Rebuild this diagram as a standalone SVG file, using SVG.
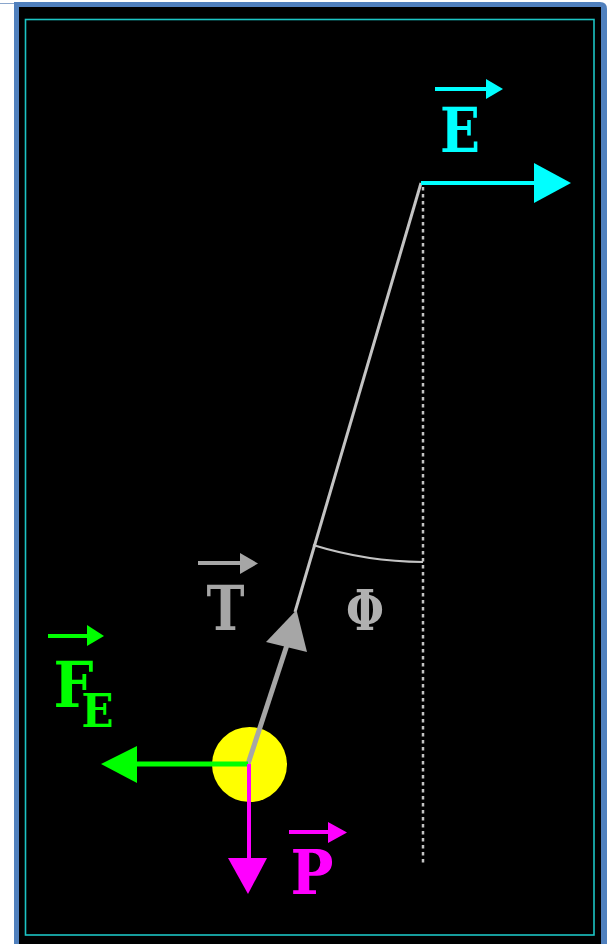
<svg xmlns="http://www.w3.org/2000/svg" width="609" height="944" viewBox="0 0 609 944">
  <style>
    .lbl { font-family: "DejaVu Serif", "Liberation Serif", serif; font-weight: bold; text-anchor: middle; }
    .cyan { fill: #00ffff; }
    .cyanS { stroke: #00ffff; fill: none; }
    .green { fill: #00ff00; }
    .greenS { stroke: #00ff00; fill: none; }
    .mag { fill: #ff00ff; }
    .magS { stroke: #ff00ff; fill: none; }
    .gray { fill: #a6a6a6; }
    .grayS { stroke: #a6a6a6; fill: none; }
    .lt { stroke: #c4c4c4; fill: none; }
  </style>
  <rect width="609" height="944" fill="#ffffff"/>
  <line x1="0" y1="3.5" x2="15" y2="3.5" stroke="#8aa6cc" stroke-width="1"/>
  <path d="M14 2 H600 Q607 2 607 9 V944 H14 Z" fill="#5080bd"/>
  <rect x="19" y="7" width="582" height="937" fill="#000000"/>
  <rect x="25.5" y="19.5" width="568.5" height="915.5" fill="none" stroke="#1cc4c4" stroke-width="1.6"/>

  <g id="connectors">
    <line class="lt" x1="423" y1="187" x2="423" y2="864" stroke-width="2.5" stroke-dasharray="3.5 3.5"/>
    <path class="lt" d="M313 545 A379 379 0 0 0 423 562" stroke-width="2"/>
    <line class="lt" x1="295" y1="612" x2="421" y2="183" stroke-width="3"/>
    <g id="field-arrow">
      <line class="cyanS" x1="421" y1="183" x2="537" y2="183" stroke-width="4"/>
      <polygon class="cyan" points="534,163 571,183 534,203"/>
    </g>
  </g>

  <g id="bob">
    <circle cx="249.5" cy="764.5" r="37.5" fill="#ffff00"/>
  </g>

  <g id="tension">
    <line class="grayS" x1="248" y1="764" x2="287" y2="645" stroke-width="5"/>
    <polygon class="gray" points="296.5,610 266,642 307,652"/>
  </g>
  <g id="electric-force">
    <line class="greenS" x1="248" y1="764" x2="135" y2="764" stroke-width="5"/>
    <polygon class="green" points="137,746 101,764 137,783"/>
  </g>
  <g id="weight">
    <line class="magS" x1="249" y1="764" x2="249" y2="860" stroke-width="4"/>
    <polygon class="mag" points="228,858 248,894 267,858"/>
  </g>

  <g id="label-E">
    <line class="cyanS" x1="435" y1="89" x2="488" y2="89" stroke-width="4"/>
    <polygon class="cyan" points="486,79 503,89 486,99"/>
    <text class="lbl cyan" x="460" y="152" font-size="62" textLength="40" lengthAdjust="spacingAndGlyphs">E</text>
  </g>
  <g id="label-T">
    <line class="grayS" x1="198" y1="563" x2="242" y2="563" stroke-width="4"/>
    <polygon class="gray" points="240,553 258,563.5 240,574"/>
    <text class="lbl gray" x="225.5" y="630" font-size="62" textLength="38" lengthAdjust="spacingAndGlyphs">T</text>
  </g>
  <g id="label-phi">
    <text class="lbl" x="365" y="630" font-size="56" fill="#b0b0b0" textLength="38" lengthAdjust="spacingAndGlyphs">Φ</text>
  </g>
  <g id="label-FE">
    <line class="greenS" x1="48" y1="636" x2="89" y2="636" stroke-width="4"/>
    <polygon class="green" points="87,625 104,636 87,646"/>
    <text class="lbl green" x="73.5" y="707" font-size="64" textLength="40" lengthAdjust="spacingAndGlyphs">F</text>
    <text class="lbl green" x="97.5" y="727" font-size="47" textLength="32" lengthAdjust="spacingAndGlyphs">E</text>
  </g>
  <g id="label-P">
    <line class="magS" x1="289" y1="832" x2="330" y2="832" stroke-width="4"/>
    <polygon class="mag" points="328,822 347,832.5 328,843"/>
    <text class="lbl mag" x="312" y="894" font-size="62" textLength="43" lengthAdjust="spacingAndGlyphs">P</text>
  </g>
</svg>
